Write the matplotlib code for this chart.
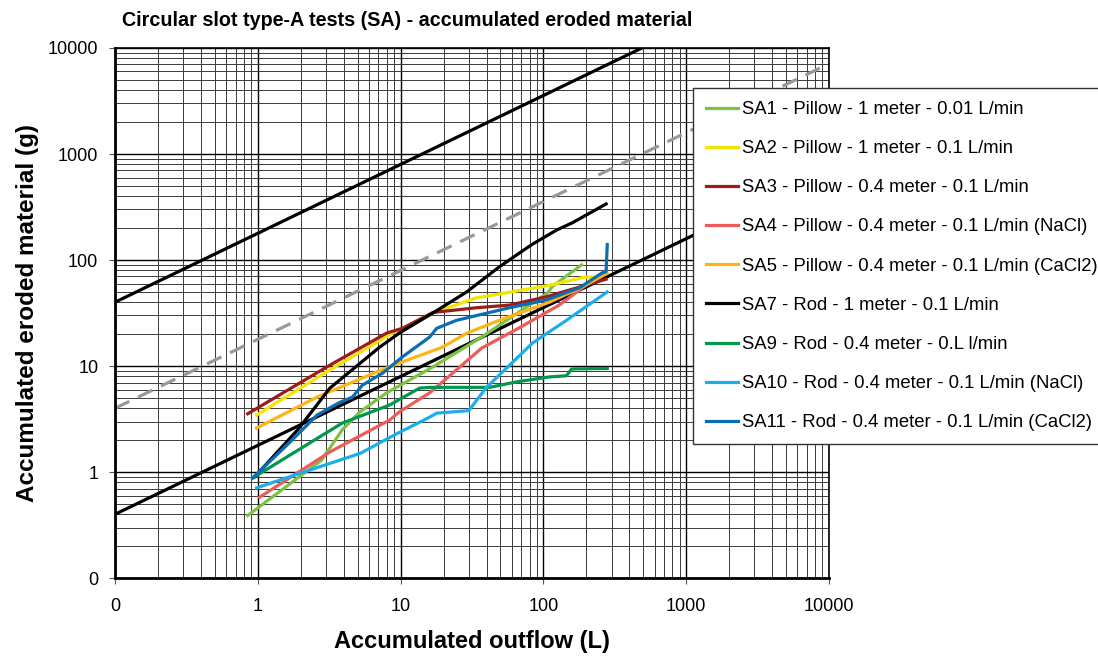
import numpy as np
import matplotlib.pyplot as plt
from matplotlib.ticker import FixedLocator, LogLocator, NullFormatter

plt.rcParams['font.family'] = ['Liberation Sans', 'DejaVu Sans']

# reference lines (slope ~0.65 on log-log)
ref_x = [0.1, 10000]
upper_y = [40, 71000]
dashed_y = [4, 7100]
lower_y = [0.4, 710]

# test series (accumulated outflow L, eroded material g)
sa1_x = [0.85, 2.8, 3.9, 5.2, 8, 16.8, 37, 107, 115, 185]
sa1_y = [0.39, 1.3, 2.5, 3.7, 5.6, 9.8, 18.8, 49, 56, 90]

sa2_x = [0.98, 3.2, 8.8, 11.6, 16.8, 34, 105, 194, 230]
sa2_y = [3.45, 9.2, 20.5, 24.4, 31.6, 44, 57, 69, 69]

sa3_x = [0.85, 3.2, 8, 10.3, 16.8, 34, 58, 105, 275]
sa3_y = [3.55, 10.2, 20.5, 22.7, 32, 35.5, 37.6, 45, 66]

sa4_x = [1.03, 3.2, 8.4, 9.8, 16, 19.7, 37, 68, 129, 275]
sa4_y = [0.58, 1.55, 3.1, 3.7, 5.6, 7.1, 14.8, 23, 37.6, 80]

sa5_x = [0.98, 2.6, 6.8, 9.8, 16, 19.7, 29, 49, 110, 178, 280]
sa5_y = [2.6, 5.1, 8.8, 10.7, 13.6, 15.1, 20.4, 27, 40, 54, 75]

sa7_x = [0.95, 1.9, 3.2, 7.1, 9.8, 16.8, 29, 49, 83, 124, 160, 210, 275]
sa7_y = [0.9, 2.5, 6.2, 15, 20.5, 31.6, 50, 86, 140, 192, 225, 276, 338]

sa9_x = [0.92, 3.9, 8.4, 13.6, 16, 42, 65, 110, 145, 158, 280]
sa9_y = [0.88, 2.9, 4.3, 6.2, 6.3, 6.3, 7.1, 7.9, 8.1, 9.4, 9.5]

sa10_x = [0.98, 2, 5.2, 9.4, 16, 17.9, 30, 40, 84, 145, 280]
sa10_y = [0.71, 0.98, 1.5, 2.3, 3.3, 3.6, 3.8, 6.3, 16.5, 27, 50]

sa11_x = [0.92, 1.67, 2.6, 3.7, 4.6, 5.4, 7.5, 10.3, 16, 17.9, 24.6, 58, 105,
          180, 255, 275, 280]
sa11_y = [0.88, 1.9, 3.45, 4.5, 5.1, 6.6, 8.6, 12.2, 18.8, 22.7, 27, 35.5, 42,
          55, 75, 78, 140]

series = [
    (sa1_x, sa1_y, '#7DC242', 'SA1 - Pillow - 1 meter - 0.01 L/min'),
    (sa2_x, sa2_y, '#F2E500', 'SA2 - Pillow - 1 meter - 0.1 L/min'),
    (sa3_x, sa3_y, '#9E1B1B', 'SA3 - Pillow - 0.4 meter - 0.1 L/min'),
    (sa4_x, sa4_y, '#EF5B5B', 'SA4 - Pillow - 0.4 meter - 0.1 L/min (NaCl)'),
    (sa5_x, sa5_y, '#FDB515', 'SA5 - Pillow - 0.4 meter - 0.1 L/min (CaCl2)'),
    (sa7_x, sa7_y, '#000000', 'SA7 - Rod - 1 meter - 0.1 L/min'),
    (sa9_x, sa9_y, '#00994C', 'SA9 - Rod - 0.4 meter - 0.L l/min'),
    (sa10_x, sa10_y, '#1DAEEA', 'SA10 - Rod - 0.4 meter - 0.1 L/min (NaCl)'),
    (sa11_x, sa11_y, '#0A6EB4', 'SA11 - Rod - 0.4 meter - 0.1 L/min (CaCl2)'),
]

decades = [0.1, 1, 10, 100, 1000, 10000]
tick_labels = ['0', '1', '10', '100', '1000', '10000']

fig = plt.figure(figsize=(10.98, 6.57), dpi=100)
ax = fig.add_axes([0.1047, 0.120, 0.6503, 0.807])

ax.set_xscale('log')
ax.set_yscale('log')
ax.set_xlim(0.1, 10000)
ax.set_ylim(0.1, 10000)

# grid
ax.xaxis.set_major_locator(FixedLocator(decades))
ax.yaxis.set_major_locator(FixedLocator(decades))
ax.xaxis.set_minor_locator(LogLocator(base=10, subs=np.arange(2, 10)))
ax.yaxis.set_minor_locator(LogLocator(base=10, subs=np.arange(2, 10)))
ax.xaxis.set_minor_formatter(NullFormatter())
ax.yaxis.set_minor_formatter(NullFormatter())
ax.set_xticklabels(tick_labels)
ax.set_yticklabels(tick_labels)
ax.grid(True, which='major', color='black', linewidth=1.0)
ax.grid(True, which='minor', color='#3a3a3a', linewidth=0.7)
ax.tick_params(which='minor', length=0)
ax.tick_params(which='major', length=4, width=0.8, color='#555555',
               labelsize=13)
ax.tick_params(axis='x', pad=10)
ax.tick_params(axis='y', pad=8)
ax.set_axisbelow(True)

for side in ['left', 'bottom']:
    ax.spines[side].set_linewidth(2)
for side in ['top', 'right']:
    ax.spines[side].set_linewidth(1.2)

# reference lines
ax.plot(ref_x, upper_y, color='black', linewidth=2.3, label='_nolegend_')
ax.plot(ref_x, dashed_y, color='#999999', linewidth=2.3, linestyle=(0, (5, 3)),
        label='_nolegend_')
ax.plot(ref_x, lower_y, color='black', linewidth=2.3, label='_nolegend_')

for x, y, color, label in series:
    ax.plot(x, y, color=color, linewidth=2.3, label=label)

ax.set_title('Circular slot type-A tests (SA) - accumulated eroded material',
             fontsize=14.2, fontweight='bold', loc='left', x=0.01, pad=16)
ax.set_xlabel('Accumulated outflow (L)', fontsize=17, fontweight='bold',
              labelpad=11)
ax.set_ylabel('Accumulated eroded material (g)', fontsize=17.5,
              fontweight='bold', labelpad=6)

leg = fig.legend(loc='upper left', bbox_to_anchor=(0.631, 0.866),
                 fontsize=13.3, frameon=True, fancybox=False, framealpha=1,
                 edgecolor='#333333', handlelength=1.75, handletextpad=0.2,
                 labelspacing=1.2, borderpad=0.7, borderaxespad=0)
leg.get_frame().set_linewidth(1.0)
leg.set_zorder(10)

plt.savefig('out.png', dpi=100)
